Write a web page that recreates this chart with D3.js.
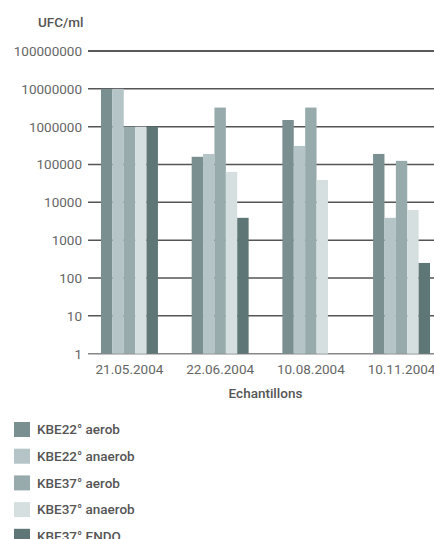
<!DOCTYPE html>
<html>
<head>
<meta charset="utf-8">
<script src="https://cdn.jsdelivr.net/npm/d3@7"></script>
<style>
  body { margin: 0; background: #fff; }
  svg { display: block; font-family: Roboto, "Liberation Sans", Arial, sans-serif; }
</style>
</head>
<body>
<div id="chart-area"></div>
<script>
// data
let dates = ["21.05.2004", "22.06.2004", "10.08.2004", "10.11.2004"];
let series = ["KBE22° aerob", "KBE22° anaerob", "KBE37° aerob", "KBE37° anaerob", "KBE37° ENDO"];
let kbe22aerob   = [10000000, 160000, 1500000, 190000];
let kbe22anaerob = [10000000, 190000, 310000, 3900];
let kbe37aerob   = [1000000, 3200000, 3200000, 125000];
let kbe37anaerob = [1000000, 64000, 39000, 6300];
let kbe37endo    = [1000000, 3900, null, 250];
let yTicks = [1, 10, 100, 1000, 10000, 100000, 1000000, 10000000, 100000000];

let values = [kbe22aerob, kbe22anaerob, kbe37aerob, kbe37anaerob, kbe37endo];
let colors = ["#7a8f90", "#b4c4c7", "#97abac", "#d5dfe0", "#5f7676"];

// Variables
let w = 434;
let h = 539;
let mLeft = 88, mRight = 443, mTop = 51, mBottom = 353.7;

let svg = d3.select("#chart-area")
    .append("svg")
    .attr("width", w)
    .attr("height", h);

// scales
let x = d3.scaleBand()
    .domain(dates)
    .range([mLeft, mRight])
    .paddingInner(0.372)
    .paddingOuter(0.143);

let xs = d3.scaleBand()
    .domain(series)
    .range([0, x.bandwidth()]);

let y = d3.scaleLog()
    .domain([1, 100000000])
    .range([mBottom, mTop]);

// grid lines + tick labels
let grid = svg.append("g");
grid.selectAll("line")
    .data(yTicks)
    .enter()
    .append("line")
      .attr("x1", mLeft)
      .attr("x2", w)
      .attr("y1", function(d){ return y(d); })
      .attr("y2", function(d){ return y(d); })
      .attr("stroke", function(d){ return d === 100000000 ? "#222" : (d === 1 ? "#888" : "#555"); })
      .attr("stroke-width", 1.5);

grid.selectAll("text")
    .data(yTicks)
    .enter()
    .append("text")
      .text(function(d){ return d; })
      .attr("x", 82)
      .attr("y", function(d){ return y(d); })
      .attr("dy", "0.36em")
      .attr("text-anchor", "end")
      .attr("font-size", 13.5)
      .attr("fill", "#666");

// bars
let groups = svg.selectAll("g.grp")
    .data(dates)
    .enter()
    .append("g")
      .attr("class", "grp")
      .attr("transform", function(d){ return "translate(" + x(d) + ",0)"; });

groups.selectAll("rect")
    .data(function(d, i){
      return series
        .map(function(s, j){ return {s: s, v: values[j][i], c: colors[j]}; })
        .filter(function(e){ return e.v != null; });
    })
    .enter()
    .append("rect")
      .attr("x", function(d){ return xs(d.s); })
      .attr("y", function(d){ return y(d.v); })
      .attr("width", xs.bandwidth())
      .attr("height", function(d){ return mBottom - y(d.v); })
      .attr("fill", function(d){ return d.c; });

// category labels
svg.selectAll("text.cat")
    .data(dates)
    .enter()
    .append("text")
      .attr("class", "cat")
      .text(function(d){ return d; })
      .attr("x", function(d){ return x(d) + x.bandwidth() / 2; })
      .attr("y", 374)
      .attr("text-anchor", "middle")
      .attr("font-size", 13.5)
      .attr("fill", "#666");

// axis titles
svg.append("text")
    .text("UFC/ml")
    .attr("x", 38)
    .attr("y", 27)
    .attr("font-size", 13.5)
    .attr("font-weight", 500)
    .attr("fill", "#555");

svg.append("text")
    .text("Echantillons")
    .attr("x", (mLeft + mRight) / 2)
    .attr("y", 398)
    .attr("text-anchor", "middle")
    .attr("font-size", 13.5)
    .attr("font-weight", 500)
    .attr("fill", "#555");

// legend
let legend = svg.selectAll("g.leg")
    .data(series)
    .enter()
    .append("g")
      .attr("class", "leg")
      .attr("transform", function(d, i){ return "translate(14," + (422 + i * 26.7) + ")"; });

legend.append("rect")
    .attr("width", 16)
    .attr("height", 15)
    .attr("fill", function(d, i){ return colors[i]; });

legend.append("text")
    .text(function(d){ return d; })
    .attr("x", 23)
    .attr("y", 7.5)
    .attr("dy", "0.36em")
    .attr("font-size", 13.5)
    .attr("font-weight", 500)
    .attr("fill", "#555");
</script>
</body>
</html>
